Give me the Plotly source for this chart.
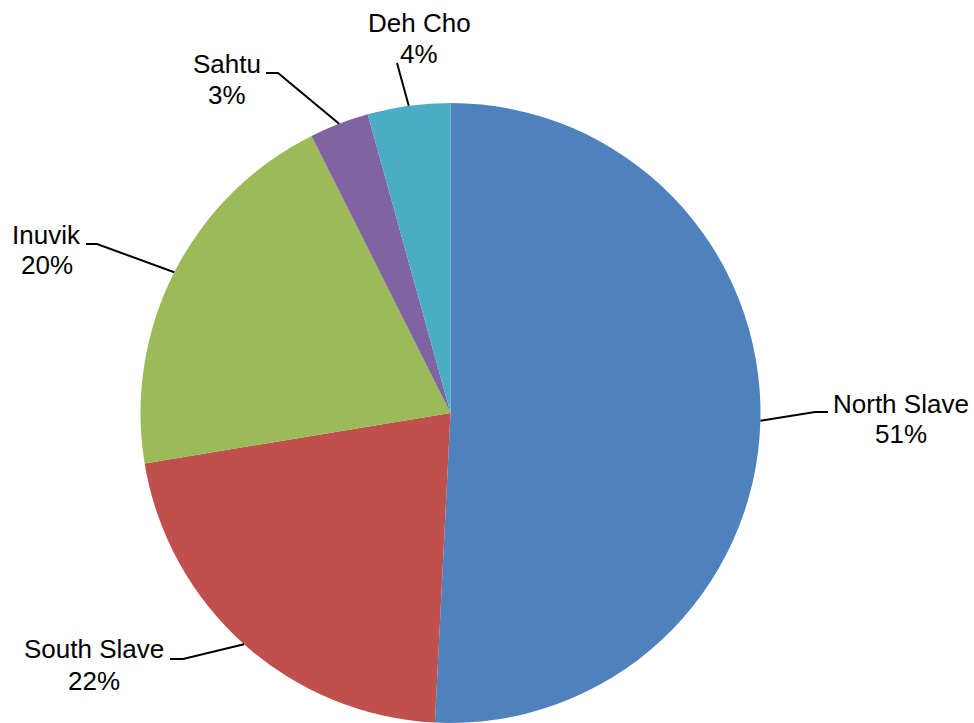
import math
import plotly.graph_objects as go

# ---- data ----
regions = ["North Slave", "South Slave", "Inuvik", "Sahtu", "Deh Cho"]
shares = [50.8, 21.6, 20.2, 3.1, 4.3]
colors = ["#4F81BD", "#C0504D", "#9BBB59", "#8064A2", "#4BACC6"]

# ---- layout constants (pixels) ----
W, H = 974, 723
PIE_LEFT, PIE_RIGHT, PIE_TOP = 140, 761, 103
FONT = dict(family="Arial, Liberation Sans, sans-serif", size=26, color="#000000")

# label placement: (center x, name baseline, pct baseline, elbow, end)
label_pos = {
    "North Slave": (901, 413, 443, (815, 412), (828, 412)),
    "South Slave": (93.5, 658, 690, (183, 659), (170, 659)),
    "Inuvik": (46.5, 244, 274, (97, 244), (86, 244)),
    "Sahtu": (226.5, 73, 104, (278, 73), (266, 73)),
    "Deh Cho": (419, 32, 63, (397, 63), None),
}

def px(x):
    return x / W

def py(y):
    return 1 - y / H

dom_x = [PIE_LEFT / W, PIE_RIGHT / W]
dom_y = [0, 1 - PIE_TOP / H]
radius = min(PIE_RIGHT - PIE_LEFT, H - PIE_TOP) / 2
cx = (PIE_LEFT + PIE_RIGHT) / 2
cy = PIE_TOP + (H - PIE_TOP) / 2

fig = go.Figure(go.Pie(
    labels=regions,
    values=shares,
    sort=False,
    direction="clockwise",
    rotation=0,
    marker=dict(colors=colors, line=dict(width=0)),
    textinfo="none",
    hoverinfo="label+percent",
    domain=dict(x=dom_x, y=dom_y),
    showlegend=False,
))

total = sum(shares)
cum = 0.0
annotations = []
shapes = []
for name, v in zip(regions, shares):
    mid = (cum + v / 2) / total * 2 * math.pi
    cum += v
    sx = cx + radius * math.sin(mid)
    sy = cy - radius * math.cos(mid)
    lx, nb, pb, elbow, end = label_pos[name]
    pct = f"{round(v / total * 100)}%"
    annotations.append(dict(x=px(lx), y=py(nb - 9), xref="paper", yref="paper",
                            text=name, showarrow=False, xanchor="center",
                            yanchor="middle", font=FONT))
    annotations.append(dict(x=px(lx), y=py(pb - 9), xref="paper", yref="paper",
                            text=pct, showarrow=False, xanchor="center",
                            yanchor="middle", font=FONT))
    pts = [(sx, sy), elbow] + ([end] if end else [])
    path = "M " + " L ".join(f"{px(a)},{py(b)}" for a, b in pts)
    shapes.append(dict(type="path", path=path, xref="paper", yref="paper",
                       line=dict(color="black", width=2)))

fig.update_layout(
    width=W, height=H,
    margin=dict(l=0, r=0, t=0, b=0),
    paper_bgcolor="white",
    plot_bgcolor="white",
    annotations=annotations,
    shapes=shapes,
)

fig.write_html("out.html")
